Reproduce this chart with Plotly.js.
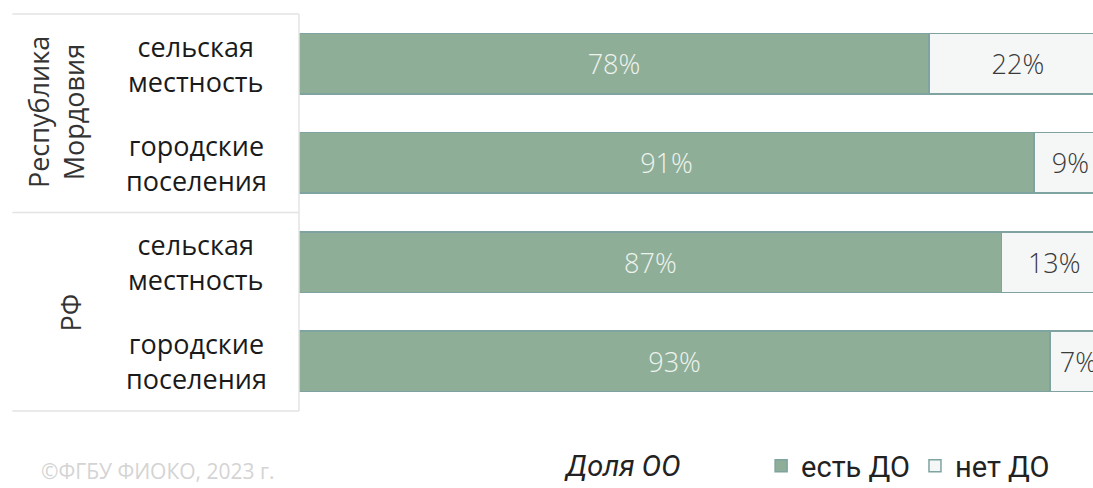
<!DOCTYPE html>
<html><head><meta charset="utf-8">
<script src="https://cdn.plot.ly/plotly-3.0.1.min.js"></script>
<style>html,body{margin:0;padding:0;background:#fff}#c{width:1093px;height:488px}</style>
</head><body><div id="c"></div>
<script>
const groups = ['Республика<br>Мордовия', 'РФ'];
const categories = ['сельская<br>местность', 'городские<br>поселения', 'сельская<br>местность', 'городские<br>поселения'];
const groupOf = [0, 0, 1, 1];
const hasDO = [78, 91, 87, 93];
const noDO = [22, 9, 13, 7];
const seriesNames = ['есть ДО', 'нет ДО'];

const ids = categories.map((c, i) => 'r' + i);
const font = 'Open Sans, DejaVu Sans, sans-serif';

const traces = [
  {type: 'bar', orientation: 'h', name: seriesNames[0], y: ids, x: hasDO,
   text: hasDO.map(v => v + '%'), textposition: 'inside', insidetextanchor: 'middle',
   textfont: {color: '#eef3ee', size: 27, family: font, weight: 300}, constraintext: 'none',
   marker: {color: '#8fae98', line: {color: '#7ea3a0', width: 1.5}}, hoverinfo: 'none'},
  {type: 'bar', orientation: 'h', name: seriesNames[1], y: ids, x: noDO,
   text: noDO.map(v => v + '%'), textposition: 'inside', insidetextanchor: 'middle',
   textfont: {color: '#3a3a3a', size: 27, family: font, weight: 300}, constraintext: 'none',
   marker: {color: '#f5f7f7', line: {color: '#7ea3a0', width: 1.5}}, hoverinfo: 'none'}
];

const annotations = [];
categories.forEach((c, i) => {
  annotations.push({xref: 'paper', yref: 'y', x: -0.1297, y: ids[i], text: c, showarrow: false,
    xanchor: 'center', yanchor: 'middle', font: {size: 27, color: '#1a1a1a', family: font}});
});
groups.forEach((g, gi) => {
  annotations.push({xref: 'paper', yref: 'paper', x: gi === 0 ? -0.306 : -0.288, y: gi === 0 ? 0.753 : 0.249,
    text: g, textangle: -90, showarrow: false, xanchor: 'center', yanchor: 'middle',
    font: {size: 27, color: '#333', family: font}});
});
annotations.push({xref: 'paper', yref: 'paper', x: 0.407, y: -0.1385, text: '<i>Доля ОО</i>', showarrow: false,
  xanchor: 'center', yanchor: 'middle', font: {size: 29, color: '#222', family: 'Roboto, Open Sans, sans-serif'}});
annotations.push({xref: 'paper', yref: 'paper', x: -0.178, y: -0.152, text: '©ФГБУ ФИОКО, 2023 г.', showarrow: false,
  xanchor: 'center', yanchor: 'middle', font: {size: 21, color: '#d4d4d4', family: font}});

const lc = '#e3e3e3';
const shapes = [
  {type: 'line', xref: 'paper', yref: 'paper', x0: -0.361, x1: 0, y0: 1, y1: 1, line: {color: lc, width: 1.5}},
  {type: 'line', xref: 'paper', yref: 'paper', x0: -0.361, x1: 0, y0: 0.5, y1: 0.5, line: {color: lc, width: 1.5}},
  {type: 'line', xref: 'paper', yref: 'paper', x0: -0.361, x1: 0, y0: 0, y1: 0, line: {color: lc, width: 1.5}},
  {type: 'line', xref: 'paper', yref: 'paper', x0: 0, x1: 0, y0: 0, y1: 1, line: {color: lc, width: 1.5}}
];

const layout = {
  width: 1093, height: 488, margin: {l: 299, r: 0, t: 14, b: 77, autoexpand: false},
  barmode: 'stack', bargap: 0.39, paper_bgcolor: '#fff', plot_bgcolor: '#fff',
  font: {family: font},
  xaxis: {range: [0, 98.3], showticklabels: false, showgrid: false, zeroline: false, fixedrange: true},
  yaxis: {autorange: 'reversed', showticklabels: false, showgrid: false, zeroline: false, ticks: ''},
  showlegend: true,
  legend: {orientation: 'h', x: 0.582, y: -0.1385, xanchor: 'left', yanchor: 'middle',
    font: {size: 29, color: '#222', family: 'Roboto, Open Sans, sans-serif'}, itemwidth: 30, traceorder: 'normal'},
  annotations, shapes
};
Plotly.newPlot('c', traces, layout, {displayModeBar: false, staticPlot: true});
</script></body></html>
